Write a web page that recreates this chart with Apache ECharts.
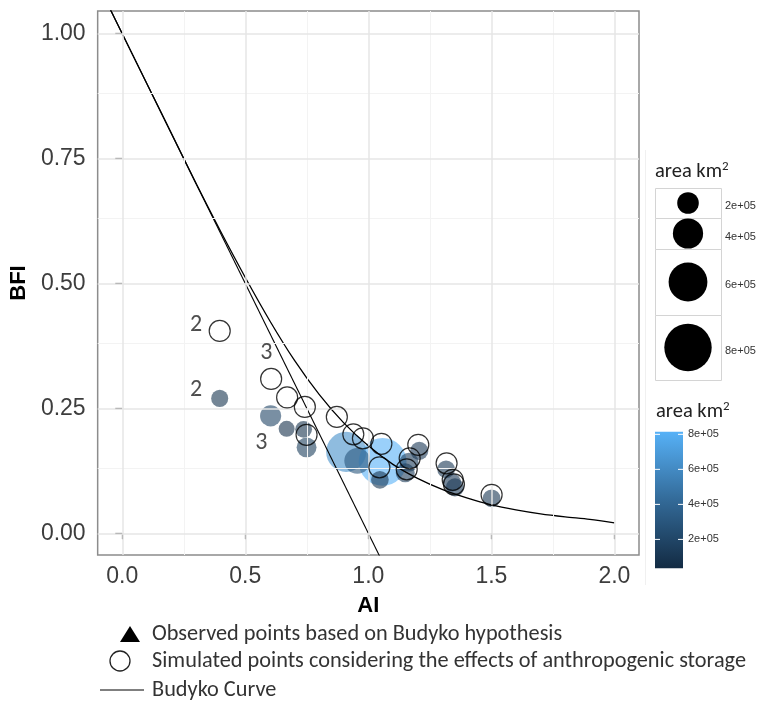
<!DOCTYPE html>
<html>
<head>
<meta charset="utf-8">
<script src="https://cdn.jsdelivr.net/npm/echarts@6.0.0/dist/echarts.min.js"></script>
<style>
html, body { margin: 0; padding: 0; background: #ffffff; }
#chart { width: 761px; height: 702px; }
</style>
</head>
<body>
<div id="chart"></div>
<script>
// Budyko curve (AI, BFI)
const curveAI  = [-0.05, 0, 0.1, 0.2, 0.3, 0.4, 0.5, 0.6, 0.7, 0.8, 0.9, 1.0, 1.1, 1.2, 1.3, 1.4, 1.5, 1.6, 1.7, 1.8, 1.9, 2.0];
const curveBFI = [1.05, 1.0, 0.90, 0.80, 0.70, 0.604, 0.512, 0.425, 0.346, 0.278, 0.221, 0.175, 0.138, 0.110, 0.088, 0.071, 0.057, 0.047, 0.039, 0.033, 0.028, 0.021];

// energy-limit line BFI = 1 - AI (end points)
const limitAI  = [-0.05, 1.05];
const limitBFI = [1.05, -0.05];

// observed points: aridity index, baseflow index, catchment area (km2)
const obsAI   = [0.396, 0.603, 0.668, 0.737, 0.749, 0.910, 1.058, 0.955, 1.047, 1.207, 1.165, 1.150, 1.316, 1.340, 1.352, 1.501];
const obsBFI  = [0.270, 0.235, 0.209, 0.208, 0.172, 0.163, 0.143, 0.145, 0.107, 0.165, 0.142, 0.121, 0.128, 0.102, 0.092, 0.070];
const obsArea = [95000, 190000, 70000, 90000, 160000, 630000, 810000, 300000, 110000, 120000, 140000, 140000, 110000, 120000, 120000, 110000];

// simulated points with anthropogenic storage
const simAI  = [0.396, 0.605, 0.670, 0.742, 0.749, 0.872, 0.939, 0.978, 1.053, 1.045, 1.203, 1.168, 1.156, 1.318, 1.343, 1.348, 1.501];
const simBFI = [0.405, 0.309, 0.272, 0.253, 0.197, 0.233, 0.198, 0.190, 0.179, 0.132, 0.177, 0.150, 0.128, 0.140, 0.107, 0.098, 0.077];

// text annotations inside the panel
const noteAI   = [0.300, 0.300, 0.585, 0.565];
const noteBFI  = [0.417, 0.287, 0.361, 0.181];
const noteText = ['2', '2', '3', '3'];

// axes
const xTicks = [0, 0.5, 1, 1.5, 2];
const yTicks = [0, 0.25, 0.5, 0.75, 1];
const xMinor = [0.25, 0.75, 1.25, 1.75];
const yMinor = [0.125, 0.375, 0.625, 0.875];
const xLimits = [-0.1, 2.1];
const yLimits = [-0.0435, 1.0455];

// legends for catchment area
const sizeBreaks   = [200000, 400000, 600000, 800000];
const colourBreaks = [200000, 400000, 600000, 800000];
const areaLimits   = [35000, 815000];
const areaColours  = ['#132B43', '#336A98', '#56B1F7'];

const pointSize = a => 13 + 4.3 * a / 1e5;
const fmtSci = v => (v / 1e5).toFixed(0) + 'e+05';

const tickFont = { fontFamily: 'Liberation Sans, Arial, sans-serif', fontSize: 23, color: '#3d3d3d' };
const legendFont = 'Carlito, Lato, sans-serif';

const obsData  = obsAI.map((x, i) => [x, obsBFI[i], obsArea[i]]);
const simData  = simAI.map((x, i) => [x, simBFI[i]]);
const curveData = curveAI.map((x, i) => [x, curveBFI[i]]);
const limitData = limitAI.map((x, i) => [x, limitBFI[i]]);
const noteData  = noteAI.map((x, i) => [x, noteBFI[i], noteText[i]]);

const minorStyle = { color: '#f3f3f3', width: 1, type: 'solid' };
const majorStyle = { color: '#e6e6e6', width: 1.5, type: 'solid' };
const gridLines = [].concat(
  xMinor.map(v => ({ xAxis: v, lineStyle: minorStyle })),
  yMinor.map(v => ({ yAxis: v, lineStyle: minorStyle })),
  xTicks.map(v => ({ xAxis: v, lineStyle: majorStyle })),
  yTicks.map(v => ({ yAxis: v, lineStyle: majorStyle }))
);

// legend graphics
const graphics = [];
graphics.push({ type: 'line', shape: { x1: 645.5, y1: 150, x2: 645.5, y2: 585 }, style: { stroke: '#f0f0f0', lineWidth: 1 }, silent: true });

const titleStyle = {
  text: 'area km{sup|2}', fontFamily: legendFont, fontSize: 20.5, fill: '#222',
  rich: { sup: { fontSize: 13, verticalAlign: 'top', padding: [0, 0, 10, 0], fontFamily: legendFont, fill: '#222' } }
};

// size legend
graphics.push({ type: 'text', left: 655, top: 160, style: Object.assign({}, titleStyle) });
const rowEdges = [188, 218, 249, 315, 380];
sizeBreaks.forEach((b, i) => {
  const y0 = rowEdges[i], y1 = rowEdges[i + 1], cy = (y0 + y1) / 2;
  graphics.push({ type: 'rect', shape: { x: 655.5, y: y0 + 0.5, width: 66, height: y1 - y0 }, style: { fill: '#fff', stroke: '#d4d4d4', lineWidth: 1 }, silent: true });
  graphics.push({ type: 'circle', shape: { cx: 688, cy: cy, r: pointSize(b) / 2 }, style: { fill: '#000' }, silent: true });
  graphics.push({ type: 'text', x: 725, y: cy + 3, style: { text: fmtSci(b), fontFamily: 'Liberation Sans, Arial, sans-serif', fontSize: 11, fill: '#333', verticalAlign: 'middle' }, silent: true });
});

// colour legend
graphics.push({ type: 'text', left: 656, top: 400, style: Object.assign({}, titleStyle) });
const barX = 655, barW = 28, barTop = 431.7, barH = 136.6;
graphics.push({
  type: 'rect', shape: { x: barX, y: barTop, width: barW, height: barH }, silent: true,
  style: { fill: new echarts.graphic.LinearGradient(0, 1, 0, 0, areaColours.map((c, i) => ({ offset: i / (areaColours.length - 1), color: c }))) }
});
colourBreaks.forEach(b => {
  const y = barTop + barH - (b - areaLimits[0]) / (areaLimits[1] - areaLimits[0]) * barH;
  graphics.push({ type: 'line', shape: { x1: barX, y1: y, x2: barX + 5, y2: y }, style: { stroke: '#fff', lineWidth: 1 }, silent: true });
  graphics.push({ type: 'line', shape: { x1: barX + barW - 5, y1: y, x2: barX + barW, y2: y }, style: { stroke: '#fff', lineWidth: 1 }, silent: true });
  graphics.push({ type: 'text', x: 688, y: y, style: { text: fmtSci(b), fontFamily: 'Liberation Sans, Arial, sans-serif', fontSize: 11, fill: '#333', verticalAlign: 'middle' }, silent: true });
});

// bottom legend
const legendRows = [
  { key: 'triangle', y: 634, label: 'Observed points based on Budyko hypothesis' },
  { key: 'circle',   y: 661, label: 'Simulated points considering the effects of anthropogenic storage' },
  { key: 'line',     y: 690, label: 'Budyko Curve' }
];
legendRows.forEach(r => {
  if (r.key === 'triangle') {
    graphics.push({ type: 'polygon', shape: { points: [[130, r.y - 8], [120, r.y + 8], [140, r.y + 8]] }, style: { fill: '#000' }, silent: true });
  } else if (r.key === 'circle') {
    graphics.push({ type: 'circle', shape: { cx: 120, cy: r.y, r: 10 }, style: { fill: 'none', stroke: '#222', lineWidth: 1.3 }, silent: true });
  } else {
    graphics.push({ type: 'line', shape: { x1: 100, y1: r.y, x2: 144, y2: r.y }, style: { stroke: '#000', lineWidth: 1 }, silent: true });
  }
  graphics.push({ type: 'text', x: 152, y: r.y, style: { text: r.label, fontFamily: legendFont, fontSize: 22.3, fill: '#333', verticalAlign: 'middle' }, silent: true });
});

const chart = echarts.init(document.getElementById('chart'), null, { renderer: 'canvas' });
chart.setOption({
  animation: false,
  backgroundColor: '#ffffff',
  grid: { left: 97, top: 11, width: 542, height: 544, show: true, borderColor: '#8c8c8c', borderWidth: 1.5, backgroundColor: '#ffffff' },
  xAxis: {
    type: 'value', min: xLimits[0], max: xLimits[1],
    name: 'AI', nameLocation: 'middle', nameGap: 40,
    nameTextStyle: { fontFamily: 'Liberation Sans, Arial, sans-serif', fontSize: 22, fontWeight: 'bold', color: '#000' },
    axisLine: { show: false },
    axisTick: { show: true, length: 6, customValues: xTicks, lineStyle: { color: '#333', width: 1.2 } },
    axisLabel: Object.assign({ margin: 10, customValues: xTicks, formatter: v => v.toFixed(1) }, tickFont),
    splitLine: { show: false }
  },
  yAxis: {
    type: 'value', min: yLimits[0], max: yLimits[1],
    name: 'BFI', nameLocation: 'middle', nameGap: 62, nameRotate: 90,
    nameTextStyle: { fontFamily: 'Liberation Sans, Arial, sans-serif', fontSize: 22, fontWeight: 'bold', color: '#000' },
    axisLine: { show: false },
    axisTick: { show: true, length: 7, customValues: yTicks, lineStyle: { color: '#333', width: 1.2 } },
    axisLabel: Object.assign({ margin: 12, customValues: yTicks, formatter: v => v.toFixed(2) }, tickFont),
    splitLine: { show: false }
  },
  visualMap: {
    show: false, type: 'continuous', seriesIndex: 1, dimension: 2,
    min: areaLimits[0], max: areaLimits[1],
    inRange: { color: areaColours }
  },
  graphic: graphics,
  series: [
    {
      // panel grid lines
      type: 'line', data: [], z: 1, silent: true,
      markLine: { silent: true, symbol: ['none', 'none'], label: { show: false }, emphasis: { disabled: true }, data: gridLines }
    },
    {
      name: 'Observed', type: 'scatter', z: 3, data: obsData,
      symbol: 'circle', symbolSize: v => pointSize(v[2]),
      itemStyle: { opacity: 0.6 }, emphasis: { disabled: true }
    },
    {
      name: 'Energy limit', type: 'line', z: 4, data: limitData, showSymbol: false, symbol: 'none',
      lineStyle: { color: '#000', width: 1.1 }, clip: true, emphasis: { disabled: true }
    },
    {
      name: 'Budyko Curve', type: 'line', z: 4, data: curveData, showSymbol: false, symbol: 'none', smooth: 0.3,
      lineStyle: { color: '#000', width: 1.3 }, clip: true, emphasis: { disabled: true }
    },
    {
      name: 'Simulated', type: 'scatter', z: 5, data: simData,
      symbol: 'circle', symbolSize: 21,
      itemStyle: { color: 'rgba(0,0,0,0)', borderColor: '#000', borderWidth: 1.2 }, emphasis: { disabled: true }
    },
    {
      name: 'Notes', type: 'scatter', z: 6, data: noteData, symbolSize: 0, silent: true,
      label: { show: true, position: 'inside', formatter: p => p.data[2], fontFamily: legendFont, fontSize: 24, color: '#222' }
    }
  ]
});
</script>
</body>
</html>
